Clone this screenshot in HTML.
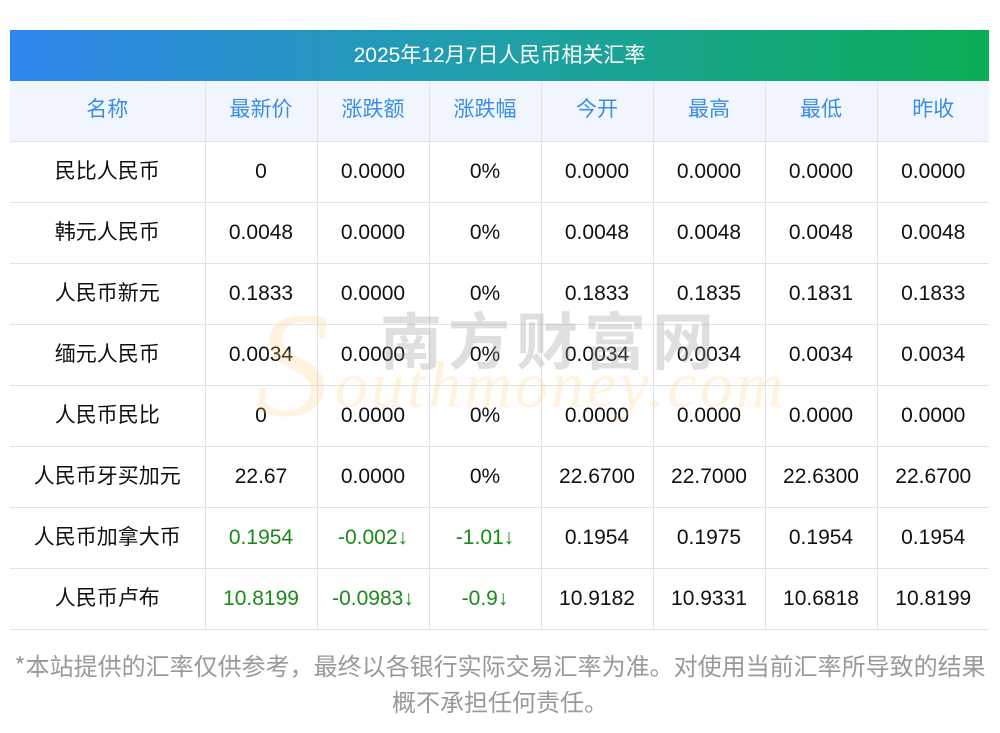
<!DOCTYPE html>
<html><head><meta charset="utf-8"><style>
body{margin:0;width:1000px;height:733px;background:#fff;font-family:"Liberation Sans","Noto Sans CJK SC",sans-serif;position:relative;overflow:hidden}
.title{position:absolute;left:10px;top:30px;width:979px;height:51px;background:linear-gradient(90deg,#2f86ec,#1fa0a8 50%,#0aae55);color:#fff;font-size:21px;line-height:51px;text-align:center}
table{position:absolute;left:10px;top:81px;border-collapse:collapse;table-layout:fixed;width:979px}
td{height:60px;border:1px solid #e2e2ee;text-align:center;font-size:21px;color:#111;padding:0;line-height:24px}
td.c{font-family:"Noto Sans CJK SC",sans-serif;font-size:21px;padding-bottom:5px;height:55px}
tr:first-child td{background:#f1f6fe;color:#3a8ee6;border-top:none;font-family:"Noto Sans CJK SC",sans-serif;font-size:21px;padding-bottom:6px;height:54px}
td:first-child{border-left:none}td:last-child{border-right:none}
.g{color:#1a8a1a}
.wm1{position:absolute;left:380px;top:292px;font-size:62px;color:rgba(150,150,150,0.3);letter-spacing:6px;font-family:"Noto Sans CJK SC",sans-serif;font-weight:bold}
.wm2{position:absolute;left:335px;top:348px;font-size:66px;color:rgba(255,200,110,0.22);font-style:italic;font-family:"Liberation Serif",serif;letter-spacing:3px}
.wmS{position:absolute;left:255px;top:290px;font-size:150px;color:rgba(255,200,110,0.22);font-style:italic;font-family:"Liberation Serif",serif;line-height:1}
.note{position:absolute;left:0;top:647px;width:1000px;text-align:center;font-size:24px;line-height:36px;color:#999;font-family:"Noto Sans CJK SC",sans-serif;white-space:nowrap}
</style></head><body>
<div class="title">2025年12月7日人民币相关汇率</div>
<table>
<colgroup><col style="width:195px"><col style="width:112px"><col style="width:112px"><col style="width:112px"><col style="width:112px"><col style="width:112px"><col style="width:112px"><col style="width:112px"></colgroup>
<tr><td>名称</td><td>最新价</td><td>涨跌额</td><td>涨跌幅</td><td>今开</td><td>最高</td><td>最低</td><td>昨收</td></tr>
<tr><td class="c">民比人民币</td><td>0</td><td>0.0000</td><td>0%</td><td>0.0000</td><td>0.0000</td><td>0.0000</td><td>0.0000</td></tr>
<tr><td class="c">韩元人民币</td><td>0.0048</td><td>0.0000</td><td>0%</td><td>0.0048</td><td>0.0048</td><td>0.0048</td><td>0.0048</td></tr>
<tr><td class="c">人民币新元</td><td>0.1833</td><td>0.0000</td><td>0%</td><td>0.1833</td><td>0.1835</td><td>0.1831</td><td>0.1833</td></tr>
<tr><td class="c">缅元人民币</td><td>0.0034</td><td>0.0000</td><td>0%</td><td>0.0034</td><td>0.0034</td><td>0.0034</td><td>0.0034</td></tr>
<tr><td class="c">人民币民比</td><td>0</td><td>0.0000</td><td>0%</td><td>0.0000</td><td>0.0000</td><td>0.0000</td><td>0.0000</td></tr>
<tr><td class="c">人民币牙买加元</td><td>22.67</td><td>0.0000</td><td>0%</td><td>22.6700</td><td>22.7000</td><td>22.6300</td><td>22.6700</td></tr>
<tr><td class="c">人民币加拿大币</td><td class="g">0.1954</td><td class="g">-0.002↓</td><td class="g">-1.01↓</td><td>0.1954</td><td>0.1975</td><td>0.1954</td><td>0.1954</td></tr>
<tr><td class="c">人民币卢布</td><td class="g">10.8199</td><td class="g">-0.0983↓</td><td class="g">-0.9↓</td><td>10.9182</td><td>10.9331</td><td>10.6818</td><td>10.8199</td></tr>
</table>
<div class="wmS">S</div>
<div class="wm1">南方财富网</div>
<div class="wm2">outhmoney.com</div>
<div class="note">*本站提供的汇率仅供参考，最终以各银行实际交易汇率为准。对使用当前汇率所导致的结果<br>概不承担任何责任。</div>
</body></html>
